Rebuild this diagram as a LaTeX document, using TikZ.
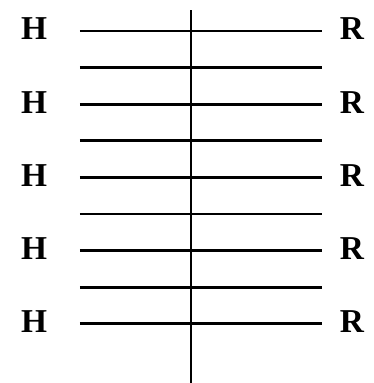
\documentclass[tikz,border=0pt]{standalone}
\usepackage{fontspec}
\setmainfont{Liberation Serif}
\begin{document}
\begin{tikzpicture}[x=0.02cm, y=-0.02cm]
		\useasboundingbox (0, 0) rectangle (374, 383);
		\tikzset{atom/.style={font=\fontsize{19}{19}\selectfont\bfseries, inner sep=0pt}}
		\draw[line width=1.5pt] (191, 10) -- (191, 383);
		\foreach \i in {0, 1, ..., 8}{
			\draw[line width=1.5pt] (80, 31 + 36.6*\i) -- (322, 31 + 36.6*\i);
		}
		\foreach \i in {0, 2, ..., 8}{
			\node[atom] (h\i) at (34, 29 + 36.6*\i) {H};
			\node[atom] (r\i) at (352, 29 + 36.6*\i) {R};
		}
	\end{tikzpicture}
\end{document}
